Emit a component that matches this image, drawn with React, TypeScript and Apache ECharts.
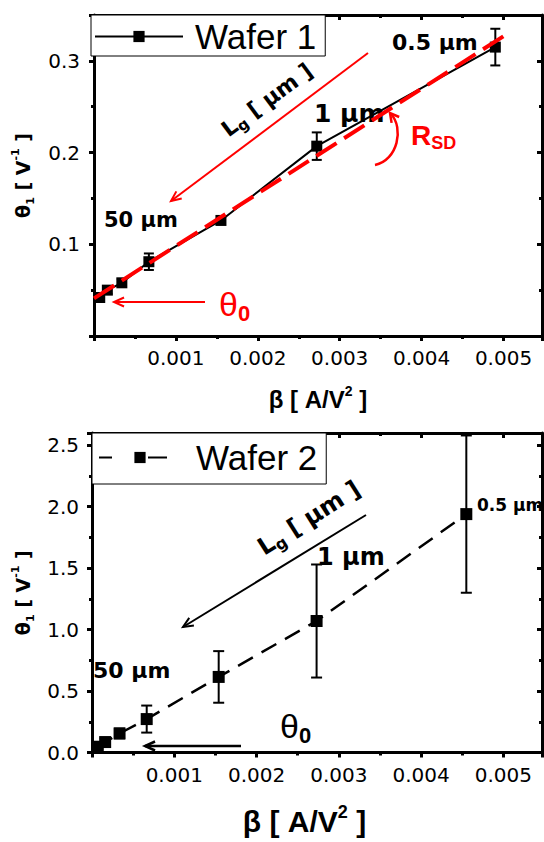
import React, { useEffect, useRef } from "react";
import * as echarts from "echarts";

// ---------- data ----------
const wafer1Beta = [0.00007, 0.000163, 0.00034, 0.00067, 0.00155, 0.00272, 0.0049];
const wafer1Theta = [0.042, 0.05, 0.058, 0.081, 0.126, 0.207, 0.315];
const wafer1Err = [0.004, 0.004, 0.004, 0.009, 0.004, 0.015, 0.02];
const fitBeta = [0, 0.00502];
const fitTheta = [0.041, 0.328];

const wafer2Beta = [0.00007, 0.00016, 0.000335, 0.000665, 0.00154, 0.00273, 0.00455];
const wafer2Theta = [0.047, 0.085, 0.155, 0.272, 0.615, 1.07, 1.94];
const wafer2Err = [0.02, 0.03, 0.04, 0.11, 0.21, 0.46, 0.64];

const xTickLabels = ["0.001", "0.002", "0.003", "0.004", "0.005"];
const FF = '"Liberation Sans", Arial, sans-serif';
const FD = '"DejaVu Sans", sans-serif';

function zip(a: number[], b: number[], c?: number[]) {
  return a.map((v, i) => (c ? [v, b[i], c[i]] : [v, b[i]]));
}

function arrow(x1: number, y1: number, x2: number, y2: number, color: string, width: number, head = 11, spread = 0.42) {
  const a = Math.atan2(y2 - y1, x2 - x1);
  const p1 = [x2 - head * Math.cos(a - spread), y2 - head * Math.sin(a - spread)];
  const p2 = [x2 - head * Math.cos(a + spread), y2 - head * Math.sin(a + spread)];
  return [
    { type: "line", shape: { x1, y1, x2, y2 }, style: { stroke: color, lineWidth: width } },
    { type: "polyline", shape: { points: [p1, [x2, y2], p2] }, style: { stroke: color, lineWidth: width, fill: null } },
  ];
}

function richSet(fs: number, lh: number, fam: string) {
  const base = { fontFamily: fam, fontWeight: "bold", color: "#000" };
  return {
    b: { ...base, fontSize: fs, lineHeight: lh },
    sup: { ...base, fontSize: Math.round(fs * 0.6), lineHeight: Math.round(fs * 0.6), verticalAlign: "top" },
    sub: { ...base, fontSize: Math.round(fs * 0.6), lineHeight: Math.round(fs * 0.6), verticalAlign: "bottom" },
  };
}

const axisCommon = {
  type: "value",
  axisLine: { show: true, onZero: false, lineStyle: { color: "#000", width: 3 } },
  axisTick: { show: true, length: 5, lineStyle: { color: "#000", width: 3 } },
  minorTick: { show: true, splitNumber: 2, length: 3, lineStyle: { color: "#000", width: 3 } },
  splitLine: { show: false },
  minorSplitLine: { show: false },
};

const labelCommon = { fontSize: 20, color: "#000", fontFamily: FD };

function errorSeries(name: string, data: number[][], xi: number, yi: number, cap: number) {
  return {
    type: "custom",
    name,
    xAxisIndex: xi,
    yAxisIndex: yi,
    data,
    z: 3,
    renderItem: (params: any, api: any) => {
      const x = api.value(0);
      const y = api.value(1);
      const e = api.value(2);
      const top = api.coord([x, y + e]);
      const bot = api.coord([x, y - e]);
      const st = { stroke: "#000", lineWidth: 2 };
      return {
        type: "group",
        children: [
          { type: "line", shape: { x1: top[0], y1: top[1], x2: bot[0], y2: bot[1] }, style: st },
          { type: "line", shape: { x1: top[0] - cap / 2, y1: top[1], x2: top[0] + cap / 2, y2: top[1] }, style: st },
          { type: "line", shape: { x1: bot[0] - cap / 2, y1: bot[1], x2: bot[0] + cap / 2, y2: bot[1] }, style: st },
        ],
      };
    },
  };
}

function lgText(x: number, y: number, deg: number, fs: number) {
  return {
    type: "text", x, y, rotation: (deg * Math.PI) / 180,
    style: {
      text: "{b|L}{s|g}{b| [ μm ]}", align: "center", verticalAlign: "middle",
      rich: {
        b: { fontFamily: FD, fontWeight: "bold", fontSize: fs, lineHeight: fs + 5, fill: "#000" },
        s: { fontFamily: FD, fontWeight: "bold", fontSize: Math.round(fs * 0.68), lineHeight: Math.round(fs * 0.68), verticalAlign: "bottom", fill: "#000" },
      },
    },
  };
}

function thetaText(x: number, y: number, color: string) {
  return {
    type: "text", x, y,
    style: {
      text: "{t|θ}{s|0}", verticalAlign: "middle",
      rich: {
        t: { fontFamily: FF, fontSize: 34, lineHeight: 40, fill: color },
        s: { fontFamily: FF, fontWeight: "bold", fontSize: 22, lineHeight: 22, verticalAlign: "bottom", fill: color },
      },
    },
  };
}

function boldText(x: number, y: number, text: string, fs: number) {
  return { type: "text", x, y, style: { text, font: `bold ${fs}px ${FD}`, fill: "#000", verticalAlign: "middle" } };
}

export default function App() {
  const ref = useRef<HTMLDivElement>(null);
  useEffect(() => {
    if (!ref.current) return;
    const chart = echarts.init(ref.current, undefined, { renderer: "svg" });
    const xFmt = (v: number) => {
      const idx = Math.round(v * 1000) - 1;
      return xTickLabels[idx] ?? "";
    };
    const legendCommon = {
      orient: "horizontal",
      itemWidth: 88,
      itemHeight: 14,
      borderColor: "#000",
      borderWidth: 1,
      borderRadius: 0,
      backgroundColor: "#fff",
      textStyle: { fontSize: 35, fontFamily: FF, color: "#000", padding: [0, 0, 0, 7] },
      selectedMode: false,
    };
    const red = "#ff0000";
    const graphics: any[] = [
      // ----- top chart annotations -----
      boldText(392, 42, "0.5 μm", 22),
      boldText(314, 113, "1 μm", 25),
      boldText(104, 220, "50 μm", 21),
      lgText(267, 100, 36.5, 22),
      ...arrow(368, 53, 171, 201, red, 2),
      {
        type: "text", x: 411, y: 135,
        style: {
          text: "{r|R}{s|SD}", verticalAlign: "middle",
          rich: {
            r: { fontFamily: FF, fontWeight: "bold", fontSize: 28, lineHeight: 34, fill: red },
            s: { fontFamily: FF, fontWeight: "bold", fontSize: 18, lineHeight: 18, verticalAlign: "bottom", fill: red },
          },
        },
      },
      { type: "bezierCurve", shape: { x1: 375, y1: 165, cpx1: 398, cpy1: 160, cpx2: 404, cpy2: 128, x2: 391, y2: 114 }, style: { stroke: red, lineWidth: 2.5, fill: null } },
      ...arrow(397, 122, 390, 113, red, 2.5, 10, 0.5).slice(1),
      thetaText(219, 304, red),
      ...arrow(205, 302, 114, 302, red, 2),
      // ----- bottom chart annotations -----
      boldText(477, 505, "0.5 μm", 17),
      boldText(317, 557, "1 μm", 24),
      boldText(93, 670, "50 μm", 22),
      lgText(309, 518, 32.5, 24),
      ...arrow(366, 515, 183, 627, "#000", 2),
      thetaText(280, 726, "#000"),
      ...arrow(241, 746, 145, 746, "#000", 2.5),
    ];

    chart.setOption({
      animation: false,
      backgroundColor: "#fff",
      textStyle: { fontFamily: FF },
      grid: [
        { left: 94, top: 15, width: 448, height: 321 },
        { left: 92, top: 433, width: 450, height: 319.5 },
      ],
      legend: [
        { ...legendCommon, data: ["Wafer 1"], left: 91, top: 15, padding: [4, 9, 2, 3] },
        {
          ...legendCommon, data: ["Wafer 2"], left: 92, top: 433, padding: [7, 9, 9, 3],
          lineStyle: { type: [0, 3, 13, 36, 19, 100] },
        },
      ],
      xAxis: [
        {
          ...axisCommon, gridIndex: 0, position: "bottom", min: 0, max: 0.00547, interval: 0.001,
          axisLabel: { ...labelCommon, margin: 12, formatter: xFmt, showMinLabel: false, showMaxLabel: false },
          name: "{b|β [ A/V}{sup|2}{b| ]}", nameLocation: "middle", nameGap: 48,
          nameTextStyle: { rich: richSet(24, 30, FF) },
        },
        {
          ...axisCommon, gridIndex: 0, position: "top", min: 0, max: 0.00547, interval: 0.001,
          axisLabel: { show: false }, axisTick: { ...axisCommon.axisTick, inside: true },
        },
        {
          ...axisCommon, gridIndex: 1, position: "bottom", min: 0, max: 0.00547, interval: 0.001,
          axisLabel: { ...labelCommon, margin: 12, formatter: xFmt, showMinLabel: false, showMaxLabel: false },
          name: "{b|β [ A/V}{sup|2}{b| ]}", nameLocation: "middle", nameGap: 50,
          nameTextStyle: { rich: richSet(30, 38, FF), padding: [0, 25, 0, 0] },
        },
        {
          ...axisCommon, gridIndex: 1, position: "top", min: 0, max: 0.00547, interval: 0.001,
          axisLabel: { show: false }, axisTick: { ...axisCommon.axisTick, inside: true },
        },
      ],
      yAxis: [
        {
          ...axisCommon, gridIndex: 0, position: "left", min: 0, max: 0.35, interval: 0.1,
          axisLabel: { ...labelCommon, margin: 14, formatter: (v: number) => v.toFixed(1), showMinLabel: false, showMaxLabel: false },
          name: "{b|θ}{sub|1}{b| [ V}{sup|-1}{b| ]}", nameLocation: "middle", nameGap: 58, nameRotate: 90,
          nameTextStyle: { rich: richSet(19, 26, FD) },
        },
        {
          ...axisCommon, gridIndex: 0, position: "right", min: 0, max: 0.35, interval: 0.1,
          axisLabel: { show: false }, axisTick: { ...axisCommon.axisTick, inside: true },
        },
        {
          ...axisCommon, gridIndex: 1, position: "left", min: 0, max: 2.6, interval: 0.5,
          axisLabel: { ...labelCommon, margin: 13, formatter: (v: number) => v.toFixed(1), showMaxLabel: false },
          name: "{b|θ}{sub|1}{b| [ V}{sup|-1}{b| ]}", nameLocation: "middle", nameGap: 56, nameRotate: 90,
          nameTextStyle: { rich: richSet(19, 26, FD) },
        },
        {
          ...axisCommon, gridIndex: 1, position: "right", min: 0, max: 2.6, interval: 0.5,
          axisLabel: { show: false }, axisTick: { ...axisCommon.axisTick, inside: true },
        },
      ],
      series: [
        {
          type: "line", name: "Wafer 1", xAxisIndex: 0, yAxisIndex: 0,
          data: zip(wafer1Beta, wafer1Theta), symbol: "rect", symbolSize: 11,
          itemStyle: { color: "#000" }, lineStyle: { color: "#000", width: 2 }, z: 4,
        },
        errorSeries("Wafer 1 error", zip(wafer1Beta, wafer1Theta, wafer1Err), 0, 0, 10),
        {
          type: "line", name: "Fit", xAxisIndex: 0, yAxisIndex: 0,
          data: zip(fitBeta, fitTheta), symbol: "none",
          lineStyle: { color: red, width: 4, type: [24, 9] }, z: 6,
        },
        {
          type: "line", name: "Wafer 2", xAxisIndex: 2, yAxisIndex: 2,
          data: zip(wafer2Beta, wafer2Theta), symbol: "rect", symbolSize: 12,
          itemStyle: { color: "#000" }, lineStyle: { color: "#000", width: 2.5, type: [17, 10] }, z: 4,
        },
        errorSeries("Wafer 2 error", zip(wafer2Beta, wafer2Theta, wafer2Err), 2, 2, 11),
      ],
      graphic: graphics,
    });
    return () => chart.dispose();
  }, []);
  return <div ref={ref} style={{ position: "fixed", left: 0, top: 0, width: 544, height: 842 }} />;
}
